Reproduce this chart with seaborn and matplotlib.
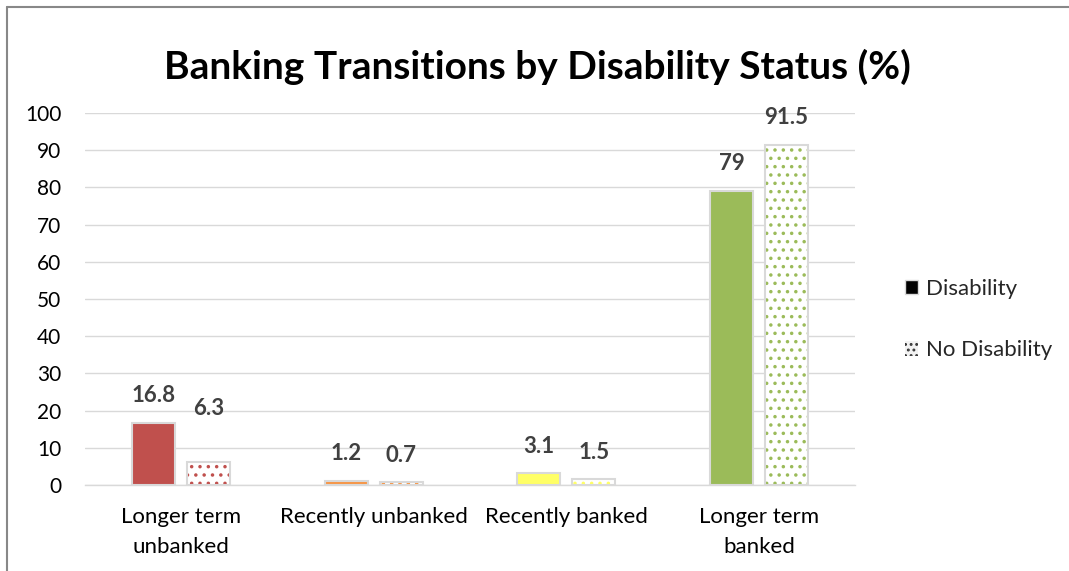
import matplotlib
matplotlib.use("Agg")
import matplotlib.pyplot as plt
from matplotlib.patches import Patch, Rectangle
from matplotlib.lines import Line2D
import seaborn as sns
import pandas as pd

# Datos
categorias = ["Longer term\nunbanked", "Recently unbanked", "Recently banked", "Longer term\nbanked"]
disability = [16.8, 1.2, 3.1, 79]
no_disability = [6.3, 0.7, 1.5, 91.5]
grupos = ["Disability", "No Disability"]
colores = ["#C0504D", "#F79646", "#FFFF66", "#9BBB59"]

df = pd.DataFrame({
    "categoria": categorias * 2,
    "valor": disability + no_disability,
    "grupo": [grupos[0]] * 4 + [grupos[1]] * 4,
})

sns.set_theme(style="white")
plt.rcParams["font.family"] = ["Lato", "DejaVu Sans"]
plt.rcParams["hatch.linewidth"] = 1.3

fig = plt.figure(figsize=(10.69, 5.71), dpi=100)
ax = fig.add_axes([0.0795, 0.1506, 0.7205, 0.6515])

sns.barplot(data=df, x="categoria", y="valor", hue="grupo", width=0.572, gap=0.22,
            legend=False, ax=ax, palette=["#000000", "#FFFFFF"])

# Colores por categoría; la serie sin discapacidad va punteada
for bar, c in zip(ax.containers[0], colores):
    bar.set_facecolor(c)
    bar.set_edgecolor("#D9D9D9")
    bar.set_linewidth(1.5)
for bar, c in zip(ax.containers[1], colores):
    bar.set_facecolor("white")
    bar.set_edgecolor(c)
    bar.set_hatch("..")
    bar.set_linewidth(0)
    ax.add_patch(Rectangle(bar.get_xy(), bar.get_width(), bar.get_height(),
                           fill=False, edgecolor="#D9D9D9", linewidth=1.5, zorder=bar.get_zorder() + 0.1))

# Etiquetas de datos
offsets = [[12, 12, 12, 12], [31, 12, 12, 12]]
for i, vals in enumerate([disability, no_disability]):
    for bar, v, off in zip(ax.containers[i], vals, offsets[i]):
        ax.annotate(f"{v:g}", (bar.get_x() + bar.get_width() / 2, bar.get_height()),
                    xytext=(0, off), textcoords="offset points", ha="center", va="bottom",
                    fontsize=16, fontweight="bold", color="#404040")

ax.set_xlim(-0.5, 3.5)
ax.set_ylim(0, 100)
ax.set_yticks(range(0, 101, 10))
ax.yaxis.grid(True, color="#D9D9D9", linewidth=1)
ax.set_axisbelow(True)
for s in ["top", "right", "left"]:
    ax.spines[s].set_visible(False)
ax.spines["bottom"].set_color("#D9D9D9")
ax.spines["bottom"].set_linewidth(1)
ax.tick_params(axis="y", labelsize=15, colors="#000000", length=0, pad=17)
ax.tick_params(axis="x", labelsize=16, colors="#000000", length=0, pad=16)
for lbl in ax.get_xticklabels():
    lbl.set_linespacing(1.6)
ax.set_xlabel("")
ax.set_ylabel("")

fig.suptitle("Banking Transitions by Disability Status (%)", x=0.503, y=0.915,
             fontsize=28, fontweight="bold", color="#000000")

handles = [Patch(facecolor="black", edgecolor="#D9D9D9"),
           Patch(facecolor="#F2F2F2", edgecolor="#333333", hatch="...", linewidth=0)]
leg = fig.legend(handles, grupos, loc="center left", bbox_to_anchor=(0.828, 0.440),
                 frameon=False, fontsize=16, handlelength=0.6, handleheight=0.6,
                 handletextpad=0.35, labelspacing=1.85)

# Borde del área del gráfico
fig.add_artist(Line2D([0.0066, 0.0066], [0, 0.988], color="#888888", linewidth=1.5))
fig.add_artist(Line2D([0.0066, 1.0], [0.988, 0.988], color="#888888", linewidth=1.5))

fig.savefig("out.png", dpi=100)
